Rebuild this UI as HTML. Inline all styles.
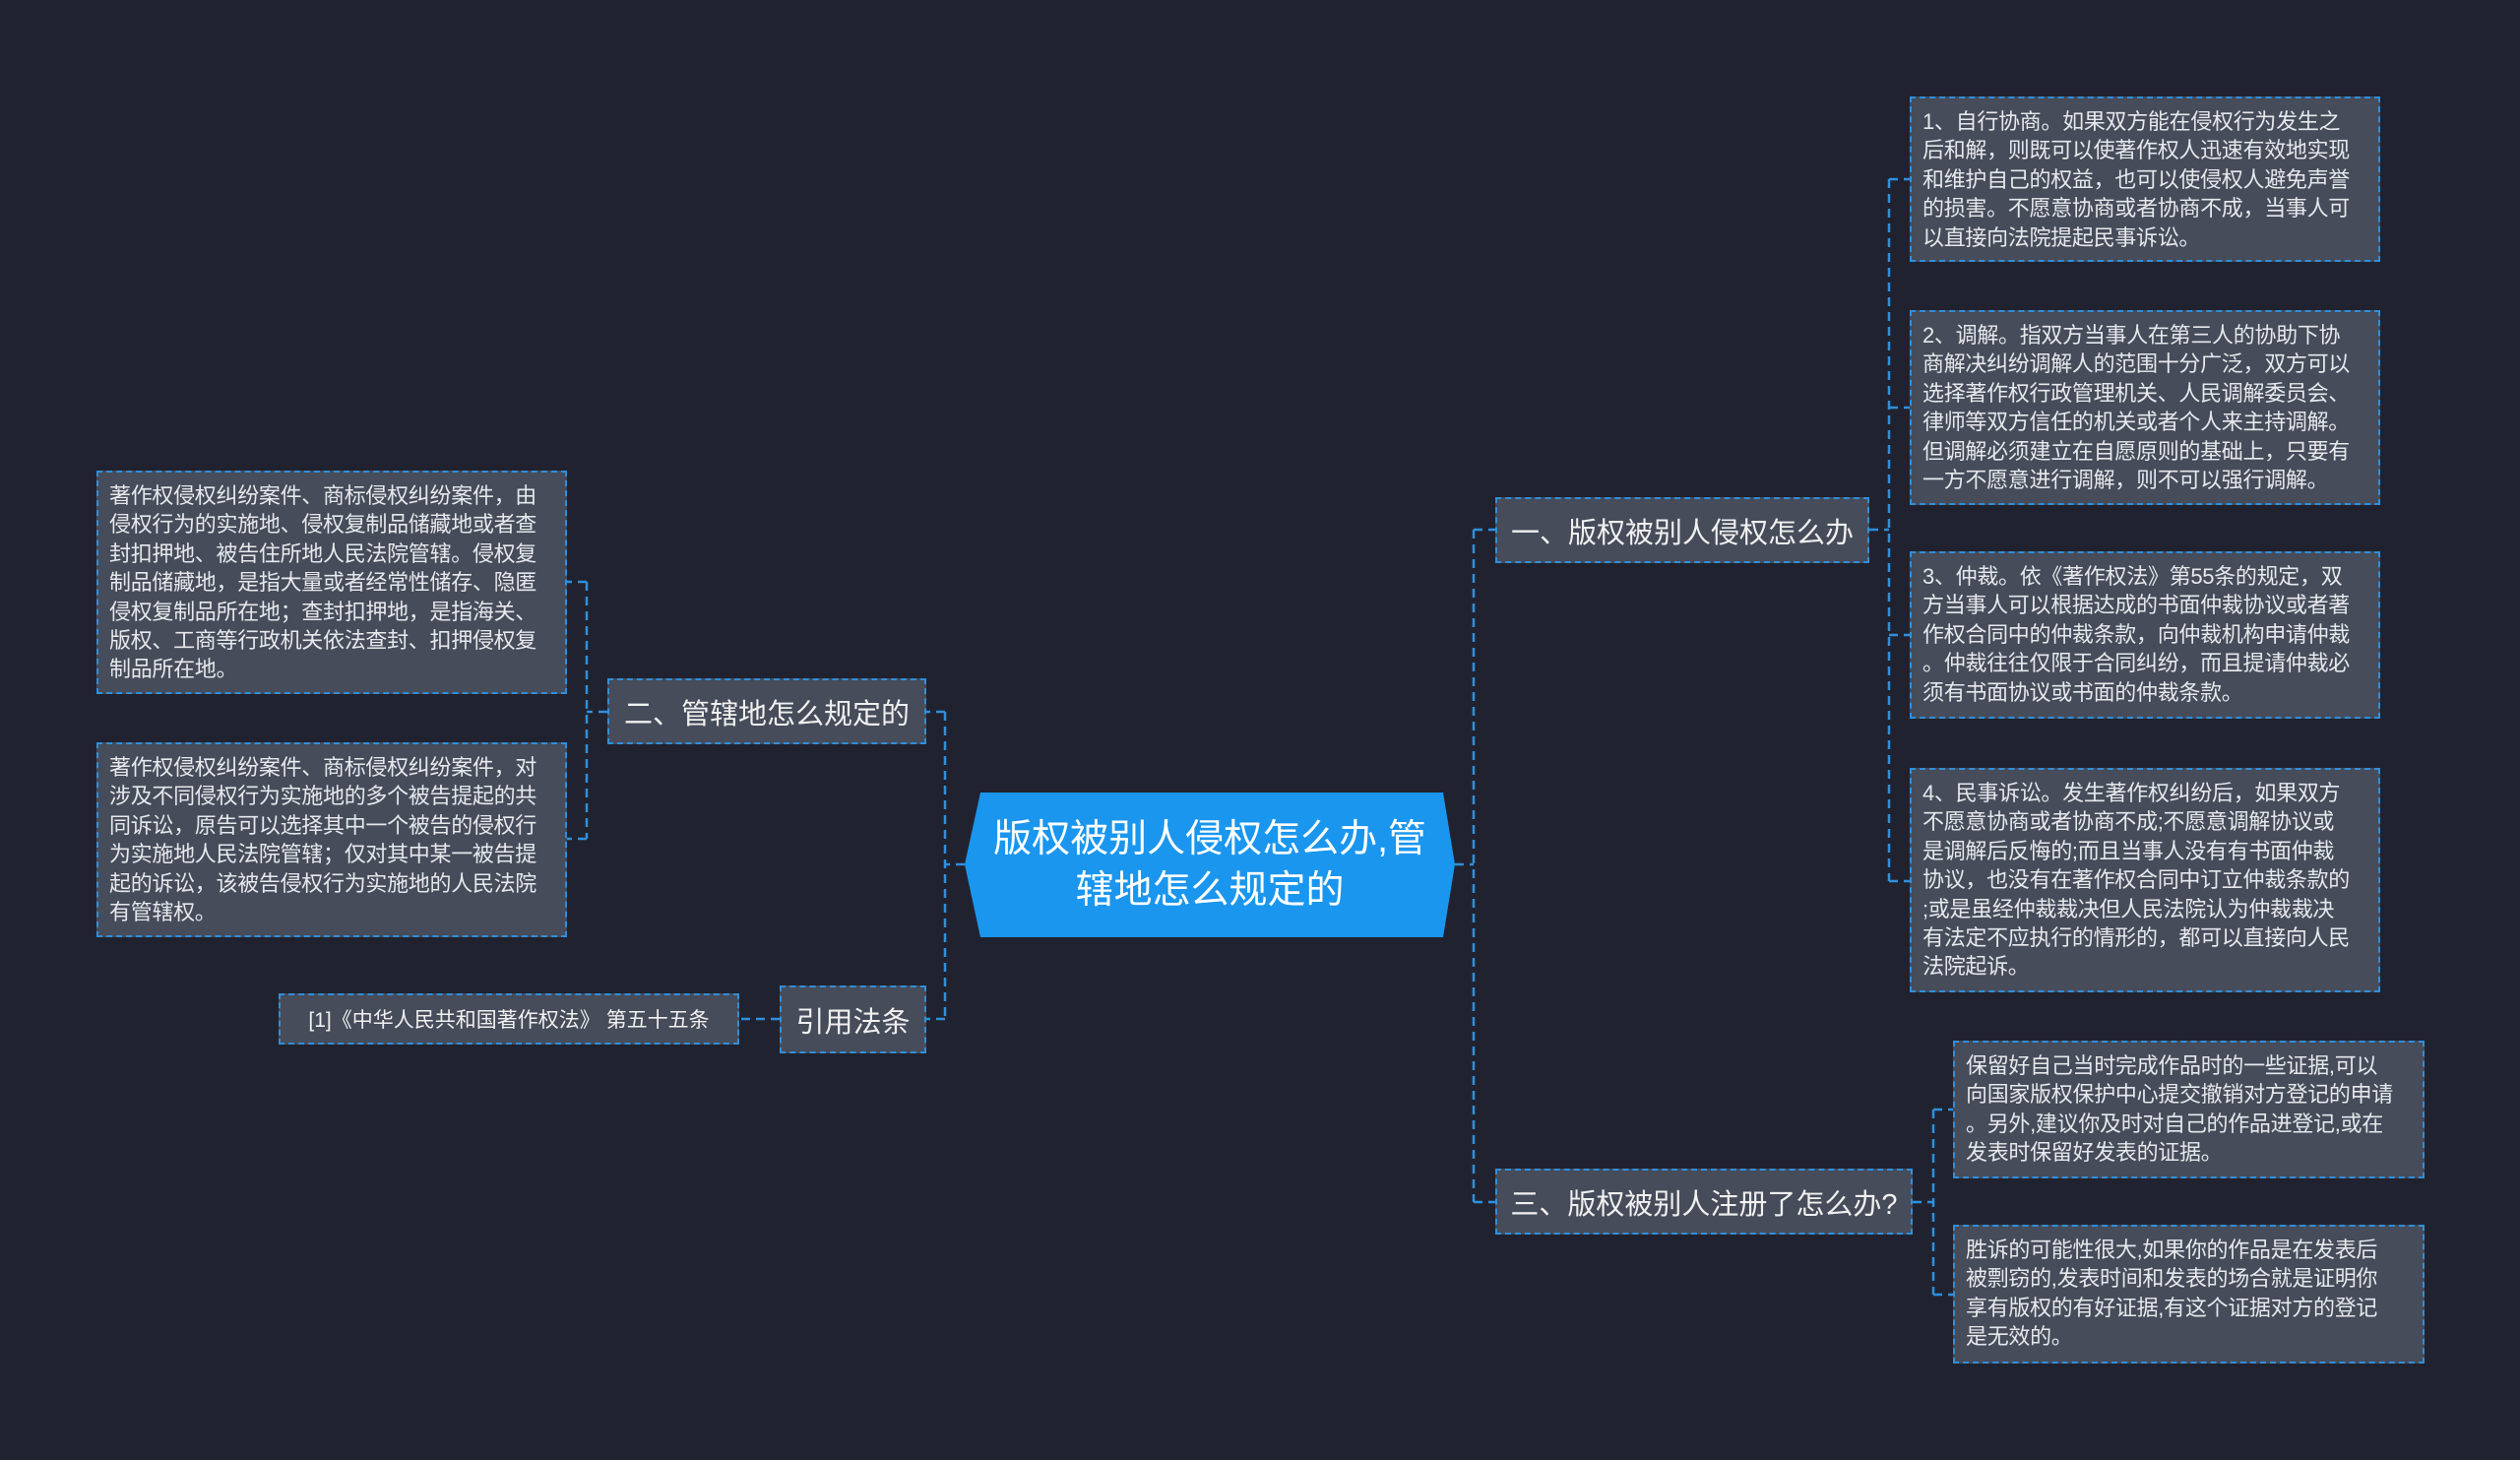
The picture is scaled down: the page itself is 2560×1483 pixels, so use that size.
<!DOCTYPE html>
<html><head><meta charset="utf-8"><style>
html,body{margin:0;padding:0;}
body{width:2560px;height:1483px;background:#20232f;position:relative;overflow:hidden;font-family:"Liberation Sans","Noto Sans CJK SC",sans-serif;}
.n{position:absolute;box-sizing:border-box;background:#464c5a;border:2px dashed #2f8fdc;color:#e6e8ec;white-space:nowrap;}
.t{font-size:22px;line-height:29.4px;padding:9px 11px;letter-spacing:-0.3px;}
.h{font-size:29px;display:flex;align-items:center;justify-content:center;color:#f0f0f0;}
svg{position:absolute;left:0;top:0;}
#c{position:absolute;left:980px;top:805px;width:498px;height:147px;display:flex;align-items:center;justify-content:center;text-align:center;color:#fff;font-size:39px;line-height:52px;}
</style></head><body>
<svg width="2560" height="1483">
<polygon points="996,805 1466,805 1478,878 1466,952 996,952 980,878" fill="#1a96ee"/>
<g stroke="#2f8fdc" stroke-width="2.5" fill="none" stroke-dasharray="9,6">
<path d="M1478,878 H1497 M1497,538 V1221 M1497,538 H1519 M1497,1221 H1519"/>
<path d="M1899,538 H1919 M1919,182 V895 M1919,182 H1940 M1919,414 H1940 M1919,645 H1940 M1919,895 H1940"/>
<path d="M1943,1221 H1964 M1964,1127 V1315 M1964,1127 H1984 M1964,1315 H1984"/>
<path d="M980,878 H960 M960,723 V1035 M960,723 H941 M960,1035 H941"/>
<path d="M617,723 H596 M596,591 V852 M596,591 H576 M596,852 H576"/>
<path d="M792,1035 H751"/>
</g>
</svg>
<div id="c">版权被别人侵权怎么办,管<br>辖地怎么规定的</div>
<div class="n h" style="left:1519px;top:505px;width:380px;height:67px;">一、版权被别人侵权怎么办</div>
<div class="n h" style="left:1519px;top:1187px;width:424px;height:67px;">三、版权被别人注册了怎么办?</div>
<div class="n h" style="left:617px;top:689px;width:324px;height:67px;">二、管辖地怎么规定的</div>
<div class="n h" style="left:792px;top:1001px;width:149px;height:69px;">引用法条</div>
<div class="n h" style="left:283px;top:1009px;width:468px;height:52px;font-size:21px;">[1]《中华人民共和国著作权法》 第五十五条</div>
<div class="n t" style="left:98px;top:478px;width:478px;height:227px;">著作权侵权纠纷案件、商标侵权纠纷案件，由<br>侵权行为的实施地、侵权复制品储藏地或者查<br>封扣押地、被告住所地人民法院管辖。侵权复<br>制品储藏地，是指大量或者经常性储存、隐匿<br>侵权复制品所在地；查封扣押地，是指海关、<br>版权、工商等行政机关依法查封、扣押侵权复<br>制品所在地。</div>
<div class="n t" style="left:98px;top:754px;width:478px;height:198px;">著作权侵权纠纷案件、商标侵权纠纷案件，对<br>涉及不同侵权行为实施地的多个被告提起的共<br>同诉讼，原告可以选择其中一个被告的侵权行<br>为实施地人民法院管辖；仅对其中某一被告提<br>起的诉讼，该被告侵权行为实施地的人民法院<br>有管辖权。</div>
<div class="n t" style="left:1940px;top:98px;width:478px;height:168px;">1、自行协商。如果双方能在侵权行为发生之<br>后和解，则既可以使著作权人迅速有效地实现<br>和维护自己的权益，也可以使侵权人避免声誉<br>的损害。不愿意协商或者协商不成，当事人可<br>以直接向法院提起民事诉讼。</div>
<div class="n t" style="left:1940px;top:315px;width:478px;height:198px;">2、调解。指双方当事人在第三人的协助下协<br>商解决纠纷调解人的范围十分广泛，双方可以<br>选择著作权行政管理机关、人民调解委员会、<br>律师等双方信任的机关或者个人来主持调解。<br>但调解必须建立在自愿原则的基础上，只要有<br>一方不愿意进行调解，则不可以强行调解。</div>
<div class="n t" style="left:1940px;top:560px;width:478px;height:170px;">3、仲裁。依《著作权法》第55条的规定，双<br>方当事人可以根据达成的书面仲裁协议或者著<br>作权合同中的仲裁条款，向仲裁机构申请仲裁<br>。仲裁往往仅限于合同纠纷，而且提请仲裁必<br>须有书面协议或书面的仲裁条款。</div>
<div class="n t" style="left:1940px;top:780px;width:478px;height:228px;">4、民事诉讼。发生著作权纠纷后，如果双方<br>不愿意协商或者协商不成;不愿意调解协议或<br>是调解后反悔的;而且当事人没有有书面仲裁<br>协议，也没有在著作权合同中订立仲裁条款的<br>;或是虽经仲裁裁决但人民法院认为仲裁裁决<br>有法定不应执行的情形的，都可以直接向人民<br>法院起诉。</div>
<div class="n t" style="left:1984px;top:1057px;width:479px;height:140px;">保留好自己当时完成作品时的一些证据,可以<br>向国家版权保护中心提交撤销对方登记的申请<br>。另外,建议你及时对自己的作品进登记,或在<br>发表时保留好发表的证据。</div>
<div class="n t" style="left:1984px;top:1244px;width:479px;height:141px;">胜诉的可能性很大,如果你的作品是在发表后<br>被剽窃的,发表时间和发表的场合就是证明你<br>享有版权的有好证据,有这个证据对方的登记<br>是无效的。</div>
</body></html>
